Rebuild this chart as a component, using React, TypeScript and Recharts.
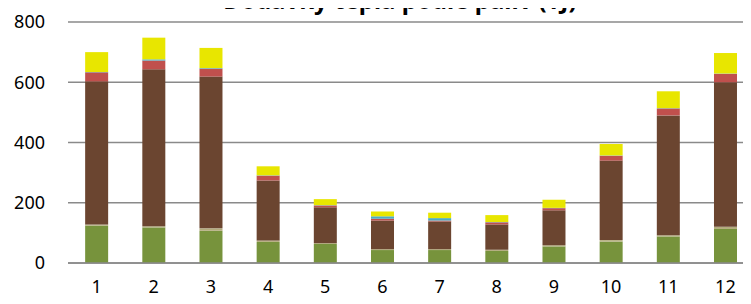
import React from "react";
import { BarChart, Bar, XAxis, YAxis, CartesianGrid } from "recharts";

const title = "Dodávky tepla podle paliv (TJ)";
const months = ["1", "2", "3", "4", "5", "6", "7", "8", "9", "10", "11", "12"];
const yTicks = [0, 200, 400, 600, 800];

const green = [124, 118, 107, 70, 63, 43, 43, 40, 55, 71, 88, 113];
const tan = [4, 4, 8, 5, 3, 3, 3, 4, 4, 5, 4, 7];
const brown = [475, 521, 504, 199, 119, 95, 92, 84, 116, 264, 398, 480];
const red = [30, 29, 26, 16, 6, 6, 3, 7, 7, 16, 23, 28];
const blue = [1, 4, 2, 1, 1, 8, 8, 1, 1, 1, 1, 1];
const yellow = [66, 72, 67, 30, 20, 16, 18, 23, 27, 38, 56, 68];

const data = months.map((m, i) => ({
  m,
  green: green[i],
  tan: tan[i],
  brown: brown[i],
  red: red[i],
  blue: blue[i],
  yellow: yellow[i],
}));

const series = [
  { key: "green", color: "#77933C" },
  { key: "tan", color: "#B2AB7C" },
  { key: "brown", color: "#6B4530" },
  { key: "red", color: "#C0504D" },
  { key: "blue", color: "#4BACC6" },
  { key: "yellow", color: "#E8E600" },
];

const font = "'Noto Sans', 'Open Sans', sans-serif";

export default function App() {
  return (
    <div style={{ margin: -8, width: 751, height: 304, overflow: "hidden", position: "relative", background: "#fff" }}>
      <BarChart
        width={760}
        height={304}
        data={data}
        margin={{ top: 22, right: 6, bottom: 0, left: 0 }}
        barCategoryGap="30%"
      >
        <CartesianGrid vertical={false} stroke="#8a8a8a" strokeWidth={1.5} />
        <XAxis
          dataKey="m"
          height={41}
          axisLine={{ stroke: "#8a8a8a", strokeWidth: 1.5 }}
          tickLine={false}
          tickSize={0}
          tickMargin={17}
          tick={{ fill: "#000", fontSize: 18, fontFamily: font }}
          interval={0}
        />
        <YAxis
          width={68}
          domain={[0, 800]}
          ticks={yTicks}
          axisLine={false}
          tickLine={false}
          tickSize={0}
          tickMargin={23}
          tick={{ fill: "#000", fontSize: 18, fontFamily: font }}
        />
        {series.map((s) => (
          <Bar key={s.key} dataKey={s.key} stackId="a" fill={s.color} isAnimationActive={false} />
        ))}
      </BarChart>
      <svg width={751} height={30} style={{ position: "absolute", left: 0, top: 0 }}>
        <text x={400} y={9} textAnchor="middle" fontFamily={font} fontWeight="bold" fontSize={24} fill="#000">
          {title}
        </text>
      </svg>
    </div>
  );
}
